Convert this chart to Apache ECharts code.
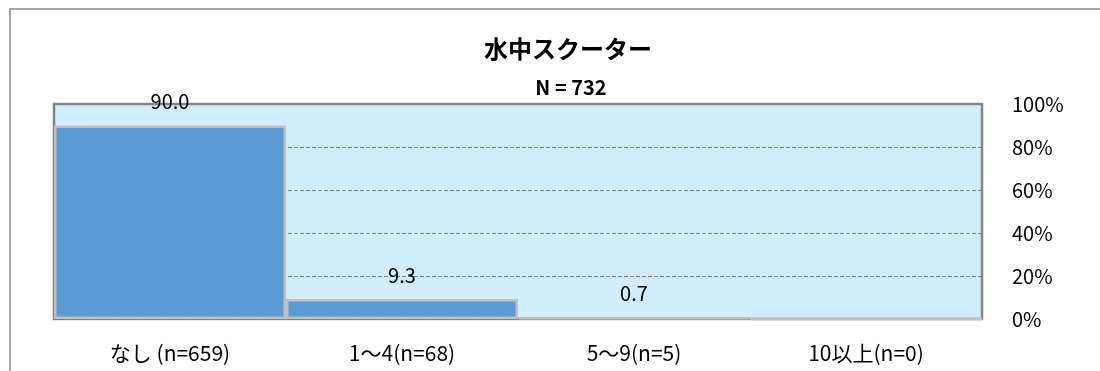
<!DOCTYPE html>
<html>
<head>
<meta charset="utf-8">
<script src="https://cdn.jsdelivr.net/npm/echarts@6/dist/echarts.min.js"></script>
<style>
  html, body { margin: 0; padding: 0; background: #fff; }
  #main { width: 1100px; height: 371px; }
</style>
</head>
<body>
<div id="main"></div>
<script>
// data
var categories = ['なし (n=659)', '1〜4(n=68)', '5〜9(n=5)', '10以上(n=0)'];
var percents = [90.0, 9.3, 0.7, 0];
var chartTitle = '水中スクーター';
var subTitle = 'N = 732';

var font = "'Noto Sans CJK JP', 'Noto Sans', sans-serif";

var option = {
  backgroundColor: '#fff',
  animation: false,
  textStyle: { fontFamily: font },
  title: [
    {
      text: chartTitle, left: 563, top: 32, textAlign: 'center',
      textStyle: { fontFamily: font, fontSize: 24, fontWeight: 'bold', color: '#000' }
    },
    {
      text: subTitle, left: 566, top: 72, textAlign: 'center',
      textStyle: { fontFamily: font, fontSize: 20, fontWeight: 'bold', color: '#000' }
    }
  ],
  graphic: [{
    type: 'rect',
    shape: { x: 10, y: 9, width: 1200, height: 500 },
    style: { fill: 'none', stroke: '#8c8c8c', lineWidth: 1.5 },
    silent: true
  }],
  grid: {
    left: 54, right: 118, top: 104, bottom: 52,
    show: true,
    backgroundColor: '#D2EDFC',
    borderColor: '#868686',
    borderWidth: 2.5
  },
  xAxis: {
    type: 'category',
    data: categories,
    axisLine: { show: false },
    axisTick: { show: false },
    axisLabel: { margin: 24, fontSize: 21, color: '#000', fontFamily: font }
  },
  yAxis: {
    type: 'value',
    position: 'right',
    min: 0, max: 100, interval: 20,
    axisLine: { show: false },
    axisTick: { show: false },
    axisLabel: { formatter: '{value}%', margin: 30, fontSize: 20, color: '#000', fontFamily: font },
    splitLine: { lineStyle: { type: [4, 2], color: '#808080', width: 1 } }
  },
  series: [{
    type: 'bar',
    data: percents,
    barCategoryGap: 0,
    itemStyle: { color: '#5B9BD5', borderColor: '#BFBFBF', borderWidth: 2.5 },
    label: {
      show: true,
      position: 'top',
      distance: 14,
      fontSize: 20,
      color: '#000',
      fontFamily: font,
      formatter: function (p) { return p.value > 0 ? p.value.toFixed(1) : ''; }
    }
  }]
};

var myChart = echarts.init(document.getElementById('main'));
myChart.setOption(option);
</script>
</body>
</html>
